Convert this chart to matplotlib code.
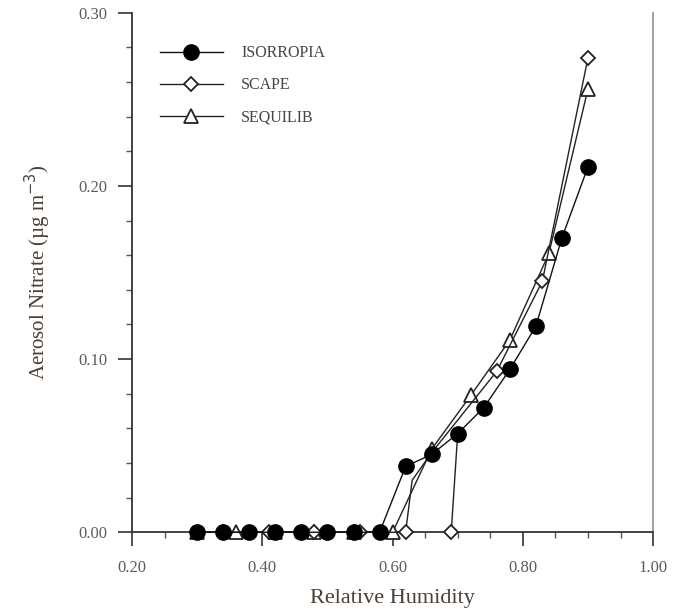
import matplotlib.pyplot as plt
from matplotlib.ticker import MultipleLocator, FormatStrFormatter

# relative humidity / aerosol nitrate
iso_rh = [0.30, 0.34, 0.38, 0.42, 0.46, 0.50, 0.54, 0.58, 0.62, 0.66,
          0.70, 0.74, 0.78, 0.82, 0.86, 0.90]
iso_no3 = [0.0, 0.0, 0.0, 0.0, 0.0, 0.0, 0.0, 0.0, 0.038, 0.045,
           0.057, 0.072, 0.094, 0.119, 0.170, 0.211]

scape_rh = [0.34, 0.41, 0.48, 0.55, 0.62, 0.63, 0.66, 0.76, 0.83, 0.90]
scape_no3 = [0.0, 0.0, 0.0, 0.0, 0.0, 0.030, 0.046, 0.093, 0.145, 0.274]
scape_marks = [0, 1, 2, 3, 4, 7, 8, 9]
# second SCAPE branch (point at 0.69 joined to the 0.70 value)
scape2_rh = [0.69, 0.70]
scape2_no3 = [0.0, 0.057]

seq_rh = [0.30, 0.36, 0.42, 0.48, 0.54, 0.60, 0.66, 0.72, 0.78, 0.84, 0.90]
seq_no3 = [0.0, 0.0, 0.0, 0.0, 0.0, 0.0, 0.048, 0.079, 0.111, 0.161, 0.256]

txt_col = '#4a3f36'
plt.rcParams['font.family'] = 'Liberation Serif'

fig = plt.figure(figsize=(6.81, 6.09), dpi=100)
ax = fig.add_axes([0.194, 0.126, 0.765, 0.853])

ax.plot(seq_rh, seq_no3, '-', color='#222222', lw=1.0, marker='^', ms=10,
        mfc='white', mec='#222222', mew=1.3, clip_on=False, zorder=3,
        label='SEQUILIB')
ax.plot(scape_rh, scape_no3, '-', color='#222222', lw=1.0, marker='D', ms=7,
        mfc='white', mec='#222222', mew=1.3, markevery=scape_marks,
        clip_on=False, zorder=4, label='SCAPE')
ax.plot(scape2_rh, scape2_no3, '-', color='#222222', lw=1.0, marker='D',
        ms=7, mfc='white', mec='#222222', mew=1.3, markevery=[0],
        clip_on=False, zorder=4)
ax.plot(iso_rh, iso_no3, '-', color='#111111', lw=1.0, marker='o', ms=11,
        mfc='black', mec='black', clip_on=False, zorder=5, label='ISORROPIA')

ax.set_xlim(0.2, 1.0)
ax.set_ylim(0.0, 0.3)
ax.xaxis.set_major_locator(MultipleLocator(0.2))
ax.xaxis.set_minor_locator(MultipleLocator(0.05))
ax.yaxis.set_major_locator(MultipleLocator(0.1))
ax.yaxis.set_minor_locator(MultipleLocator(0.02))
ax.xaxis.set_major_formatter(FormatStrFormatter('%.2f'))
ax.yaxis.set_major_formatter(FormatStrFormatter('%.2f'))

ax.spines['top'].set_visible(False)
for s in ['left', 'bottom', 'right']:
    ax.spines[s].set_linewidth(1.3)
    ax.spines[s].set_color('#333333')
ax.spines['right'].set_color('#999999')

ax.tick_params(which='major', direction='out', length=10, width=1.2,
               color='#333333', labelsize=12, labelcolor='#5c5c5c')
ax.tick_params(axis='x', which='major', pad=10)
ax.tick_params(axis='y', which='major', pad=8)
ax.tick_params(which='minor', direction='out', length=4, width=1.0,
               color='#555555')
ax.tick_params(top=False, right=False, which='both')

ax.set_xlabel('Relative Humidity', fontsize=16, color=txt_col, labelpad=9)
ax.set_ylabel('Aerosol Nitrate (µg m$^{-3}$)', fontsize=15, color=txt_col,
              labelpad=18)

handles, labels = ax.get_legend_handles_labels()
order = [2, 1, 0]
leg = ax.legend([handles[i] for i in order], [labels[i].upper() for i in order],
                loc='upper left', bbox_to_anchor=(0.025, 0.965), frameon=False,
                fontsize=11.5, handlelength=4.0, handletextpad=1.1,
                labelspacing=1.0, markerscale=1.0)
for t in leg.get_texts():
    t.set_color('#444444')

fig.savefig('out.png', dpi=100)
